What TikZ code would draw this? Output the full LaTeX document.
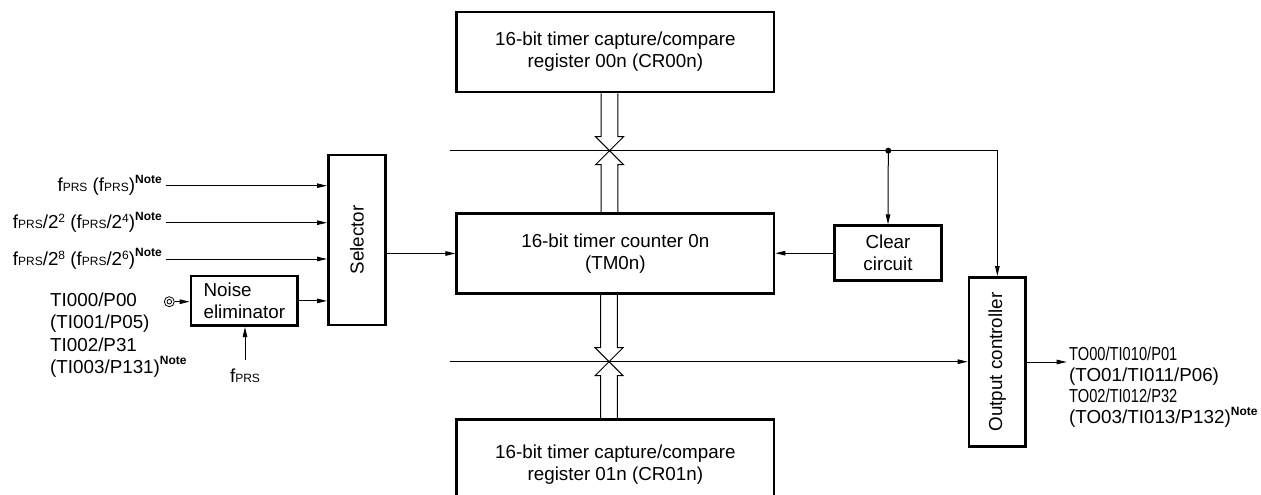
\documentclass[tikz,border=0pt]{standalone}
\usepackage{fontspec}
\setmainfont{Liberation Sans}
\usetikzlibrary{arrows.meta,calc}
\newcommand{\prsx}{{\fontsize{12}{12}\selectfont PRS}}
\newcommand{\fprs}{f\prsx}
\newcommand{\supx}[1]{\raisebox{6pt}{\fontsize{12}{12}\selectfont #1}}
\newcommand{\notex}{\raisebox{8.5pt}{\fontsize{12}{12}\selectfont\bfseries Note}}
\begin{document}
\begin{tikzpicture}[x=1pt,y=-1pt,
  font=\fontsize{18.8}{22}\selectfont,
  blk/.style={draw, line width=2.6pt, align=center, inner sep=0pt},
  conn/.style={line width=1pt, -{Triangle[length=10pt,width=4.5pt]}},
  wire/.style={line width=1pt},
  bus/.style={line width=1pt, line join=miter},
  lbl/.style={inner sep=0pt}
]
\useasboundingbox (0,0) rectangle (1261,495);
\clip (0,0) rectangle (1261,495);

% blocks
\node[blk, minimum width=317.3pt, minimum height=80pt] (cr00) at (615.35,52) {16-bit timer capture/compare\\register 00n (CR00n)};
\node[blk, minimum width=317.3pt, minimum height=80.4pt] (cnt) at (615.35,253.5) {16-bit timer counter 0n\\(TM0n)};
\node[blk, minimum width=317.3pt, minimum height=90pt] (cr01) at (615.35,464.5) {16-bit timer capture/compare\\register 01n (CR01n)};
\node[blk, minimum width=57.4pt, minimum height=170pt] (sel) at (357,240) {\rotatebox{90}{Selector}};
\node[blk, minimum width=106.7pt, minimum height=49.7pt, align=left] (noise) at (244.3,300.9) {Noise\\eliminator};
\node[blk, minimum width=107.4pt, minimum height=55pt] (clr) at (888,253.2) {Clear\\circuit};
\node[blk, minimum width=56.7pt, minimum height=169.4pt] (outc) at (997.35,362) {\rotatebox{90}{Output controller}};

% input labels
\node[lbl, anchor=base east] (f1) at (162,191.5) {\fprs{} (\fprs)\notex};
\node[lbl, anchor=base east] (f2) at (162,228.5) {\fprs/2\supx{2} (\fprs/2\supx{4})\notex};
\node[lbl, anchor=base east] (f3) at (162,265) {\fprs/2\supx{8} (\fprs/2\supx{6})\notex};
\coordinate (i1) at (165.7,185.7);
\coordinate (i2) at (165.7,222.7);
\coordinate (i3) at (165.7,259);
\draw[conn] (i1) -- (i1 -| sel.west);
\draw[conn] (i2) -- (i2 -| sel.west);
\draw[conn] (i3) -- (i3 -| sel.west);

\node[lbl, anchor=base west] (ti1) at (50,306.7) {TI000/P00};
\node[lbl, anchor=base west] (ti2) at (50,328.9) {(TI001/P05)};
\node[lbl, anchor=base west] (ti3) at (50,351.1) {TI002/P31};
\node[lbl, anchor=base west] (ti4) at (50,373.3) {(TI003/P131)\notex};

% pin with double circle
\node[draw, circle, minimum size=10pt, inner sep=0pt, line width=0.8pt] (pin) at (169.3,301.7) {};
\draw[line width=0.8pt] (pin.center) circle (2.3pt);
\draw[conn] (pin.east) -- (pin.east -| noise.west);

\node[lbl, anchor=base] (fn) at (245,382) {\fprs};
\coordinate (fa) at (245,360);
\draw[conn] (fa) -- (fa |- noise.south);

\draw[conn] (noise.east) -- (noise.east -| sel.west);
\draw[conn] (cnt.west -| sel.east) -- (cnt.west);
\draw[conn] (clr.west) -- (clr.west -| cnt.east);

% top line
\coordinate (tl) at (450,150.7);
\coordinate (j) at (888.3,150.7);
\coordinate (x1) at (609.5,150.7);
\draw[wire] (tl) -- (j);
\draw[conn] (j) -| (outc.north);
\draw[conn] (j) -- (clr.north);
\fill (j) circle (3pt);

% bottom line
\coordinate (bl) at (449.5,361.7);
\coordinate (x2) at (609,361.7);
\draw[conn] (bl) -- (bl -| outc.west);

% output
\coordinate (oe) at (1066.7,362);
\draw[conn] (outc.east) -- (oe);
\node[lbl, anchor=base west] (to1) at (1069,360) {\scalebox{0.78}[1]{TO00/TI010/P01}};
\node[lbl, anchor=base west] (to2) at (1069,381.3) {(TO01/TI011/P06)};
\node[lbl, anchor=base west] (to3) at (1069,402.6) {\scalebox{0.78}[1]{TO02/TI012/P32}};
\node[lbl, anchor=base west] (to4) at (1069,423.5) {(TO03/TI013/P132)\notex};

% buses (hollow arrows)
\draw[bus] ($(x1 |- cr00.south)+(-8.3,0)$) -- ($(x1)+(-8.3,-14)$) -- ($(x1)+(-14,-14)$) -- (x1) -- ($(x1)+(14,-14)$) -- ($(x1)+(8.3,-14)$) -- ($(x1 |- cr00.south)+(8.3,0)$);
\draw[bus] ($(x1 |- cnt.north)+(-8.3,0)$) -- ($(x1)+(-8.3,14)$) -- ($(x1)+(-14,14)$) -- (x1) -- ($(x1)+(14,14)$) -- ($(x1)+(8.3,14)$) -- ($(x1 |- cnt.north)+(8.3,0)$);
\draw[bus] ($(x2 |- cnt.south)+(-8.3,0)$) -- ($(x2)+(-8.3,-14)$) -- ($(x2)+(-14,-14)$) -- (x2) -- ($(x2)+(14,-14)$) -- ($(x2)+(8.3,-14)$) -- ($(x2 |- cnt.south)+(8.3,0)$);
\draw[bus] ($(x2 |- cr01.north)+(-8.3,0)$) -- ($(x2)+(-8.3,14)$) -- ($(x2)+(-14,14)$) -- (x2) -- ($(x2)+(14,14)$) -- ($(x2)+(8.3,14)$) -- ($(x2 |- cr01.north)+(8.3,0)$);
\end{tikzpicture}
\end{document}
